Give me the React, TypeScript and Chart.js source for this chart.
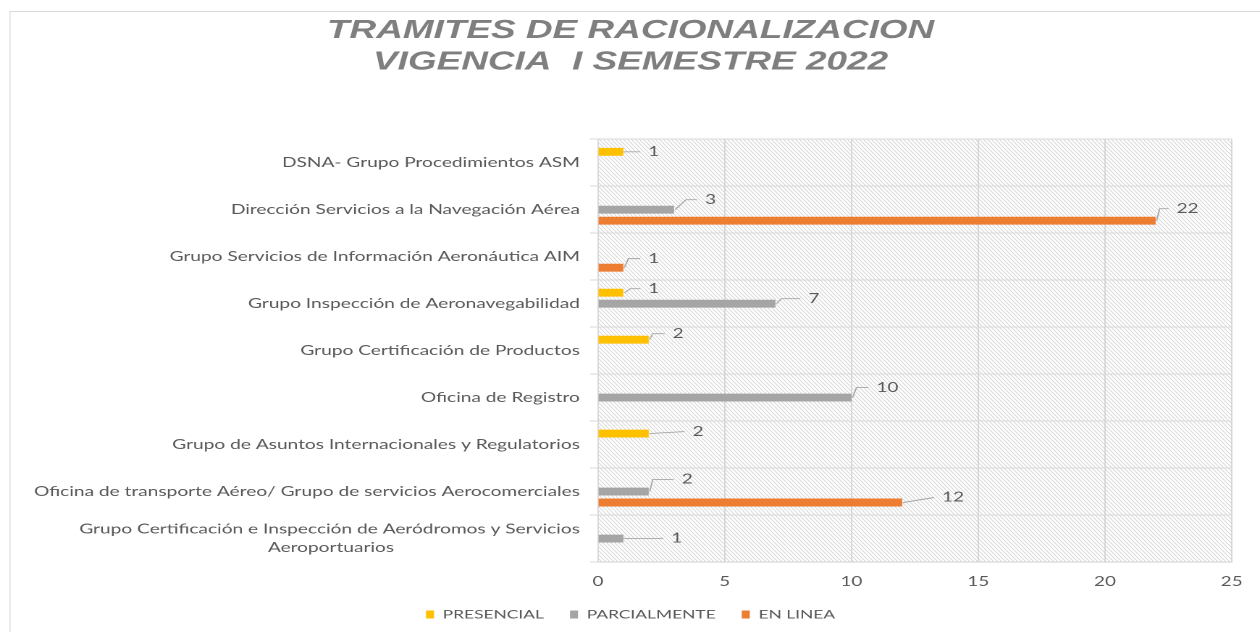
import React, { useEffect, useRef } from 'react';
import { Chart, registerables } from 'chart.js';

Chart.register(...registerables);

// ---------- data ----------
const categories: (string | string[])[] = [
  'DSNA- Grupo Procedimientos ASM',
  'Dirección Servicios a la Navegación Aérea',
  'Grupo Servicios de Información Aeronáutica AIM',
  'Grupo Inspección de Aeronavegabilidad',
  'Grupo Certificación de Productos',
  'Oficina de Registro',
  'Grupo de Asuntos Internacionales y Regulatorios',
  'Oficina de transporte Aéreo/ Grupo de servicios Aerocomerciales',
  ['Grupo Certificación e Inspección de Aeródromos y Servicios', 'Aeroportuarios'],
];

const seriesNames = ['PRESENCIAL', 'PARCIALMENTE', 'EN LINEA'];
const presencial = [1, null, null, 1, 2, null, 2, null, null];
const parcialmente = [null, 3, null, 7, null, 10, null, 2, 1];
const enLinea = [null, 22, 1, null, null, null, null, 12, null];

const xMin = 0;
const xMax = 25;
const xStep = 5;

const titleLines = ['TRAMITES DE RACIONALIZACION', 'VIGENCIA  I SEMESTRE 2022'];

// ---------- styles ----------
const seriesColors = ['#FFC000', '#A5A5A5', '#ED7D31'];

// callout placement per label: [dx, dy, elbowX] in screen px from the bar end
const presencialCallouts = [[25, 0, 0], null, null, [25, -4, 7], [24, -6, 4], null, [44, -2, 36], null, null];
const parcialmenteCallouts = [null, [31, -10, 12], null, [33, -5, 6], null, [25, -10, 5], null, [33, -12, 4], [48, 0, 0]];
const enLineaCallouts = [null, [21, -12, 4], [25, -9, 5], null, null, null, null, [40, -5, 32], null];
const calloutSets = [presencialCallouts, parcialmenteCallouts, enLineaCallouts];

const VIEW_W = 1260;
const VIEW_H = 632;
const RENDER_W = 870;
const SX = VIEW_W / RENDER_W;
const PAD_LEFT = 18;

const TEXT = '#595959';
const FONT = 'Lato';

const hatchPlugin = {
  id: 'hatchBg',
  beforeDraw(chart: any) {
    const { ctx, chartArea: a } = chart;
    ctx.save();
    ctx.fillStyle = '#ffffff';
    ctx.fillRect(0, 0, chart.width, chart.height);
    // outer frame
    ctx.strokeStyle = '#d9d9d9';
    ctx.lineWidth = 1;
    ctx.beginPath();
    ctx.moveTo(10 / SX, 11.5);
    ctx.lineTo(chart.width, 11.5);
    ctx.stroke();
    ctx.lineWidth = 1 / SX;
    ctx.beginPath();
    ctx.moveTo(10 / SX, 11.5);
    ctx.lineTo(10 / SX, chart.height);
    ctx.stroke();
    // hatch
    ctx.beginPath();
    ctx.rect(a.left, a.top, a.right - a.left, a.bottom - a.top);
    ctx.clip();
    ctx.strokeStyle = '#d8d8d8';
    ctx.lineWidth = 0.7;
    const h = a.bottom - a.top;
    const leftD = a.left * SX;
    const rightD = a.right * SX;
    ctx.beginPath();
    for (let xd = leftD - h; xd < rightD + 4; xd += 4) {
      ctx.moveTo(xd / SX, a.top);
      ctx.lineTo((xd + h) / SX, a.bottom);
    }
    ctx.stroke();
    ctx.restore();
  },
};

const calloutPlugin = {
  id: 'callouts',
  afterDatasetsDraw(chart: any) {
    const { ctx } = chart;
    ctx.save();
    ctx.font = `13px ${FONT}`;
    ctx.textAlign = 'left';
    ctx.textBaseline = 'middle';
    chart.data.datasets.forEach((ds: any, di: number) => {
      const meta = chart.getDatasetMeta(di);
      const offs = calloutSets[di];
      meta.data.forEach((el: any, i: number) => {
        const v = ds.data[i];
        if (v === null || v === undefined) return;
        const o = offs[i] || [25, 0, 0];
        const [dx, dy, ex] = o as number[];
        const x0 = el.x;
        const y0 = el.y;
        ctx.strokeStyle = '#a6a6a6';
        ctx.lineWidth = 0.9;
        ctx.beginPath();
        ctx.moveTo(x0 + 1 / SX, y0);
        ctx.lineTo(x0 + ex / SX, y0 + dy);
        ctx.lineTo(x0 + (dx - 8) / SX, y0 + dy);
        ctx.stroke();
        ctx.fillStyle = TEXT;
        ctx.fillText(String(v), x0 + dx / SX, y0 + dy);
      });
    });
    ctx.restore();
  },
};

let measureCtx: CanvasRenderingContext2D | null = null;
function centeredLines(lines: string[], font: string): string[] {
  if (!measureCtx) measureCtx = document.createElement('canvas').getContext('2d');
  const m = measureCtx!;
  m.font = font;
  const widest = Math.max(...lines.map((l) => m.measureText(l).width));
  const sp = m.measureText(' ').width || 3;
  return lines.map((l) => {
    const n = Math.round((widest - m.measureText(l).width) / 2 / sp);
    return l + ' '.repeat(Math.max(0, n));
  });
}

export default function App() {
  const canvasRef = useRef<HTMLCanvasElement | null>(null);

  useEffect(() => {
    const canvas = canvasRef.current;
    if (!canvas) return;
    const yFontSize = 13.2;
    const chart = new Chart(canvas, {
      type: 'bar',
      data: {
        labels: categories as any,
        datasets: [
          { label: seriesNames[0], data: presencial, backgroundColor: seriesColors[0], borderWidth: 0 },
          { label: seriesNames[1], data: parcialmente, backgroundColor: seriesColors[1], borderWidth: 0 },
          { label: seriesNames[2], data: enLinea, backgroundColor: seriesColors[2], borderWidth: 0 },
        ],
      },
      options: {
        indexAxis: 'y',
        responsive: false,
        devicePixelRatio: 2,
        animation: false,
        datasets: { bar: { categoryPercentage: 0.7, barPercentage: 0.72 } },
        layout: { padding: { left: PAD_LEFT, right: RENDER_W - 1235 / SX, top: 0, bottom: 1.5 } },
        plugins: {
          title: {
            display: true,
            text: titleLines,
            color: '#7f7f7f',
            font: { family: 'Liberation Sans', size: 25.5, weight: 'bold', style: 'italic', lineHeight: 1.24 },
            padding: { top: 15, bottom: 61 },
          },
          legend: {
            position: 'bottom',
            labels: {
              color: TEXT,
              font: { family: FONT, size: 12 },
              boxWidth: 8 / SX,
              boxHeight: 8,
              padding: 18,
            },
          },
          tooltip: { enabled: false },
        },
        scales: {
          x: {
            min: xMin,
            max: xMax,
            ticks: { stepSize: xStep, color: TEXT, font: { family: FONT, size: 13 }, padding: 12 },
            grid: { color: '#d0d0d0', lineWidth: 0.8, drawTicks: false },
            border: { display: true, color: '#d0d0d0' },
            afterFit: (s: any) => {
              s.height = 28.5;
            },
          },
          y: {
            ticks: {
              color: TEXT,
              font: { family: FONT, size: yFontSize, lineHeight: 1.4 },
              padding: 7,
              autoSkip: false,
              callback: (_v: any, i: number) => {
                const lab = categories[i];
                if (Array.isArray(lab)) return centeredLines(lab, `${yFontSize}px ${FONT}`);
                return lab;
              },
            },
            grid: { color: '#d9d9d9', lineWidth: 1, tickLength: 5.5, offset: true },
            border: { display: true, color: '#d9d9d9' },
            afterFit: (s: any) => {
              s.width = 598 / SX - PAD_LEFT;
            },
          },
        },
      },
      plugins: [hatchPlugin, calloutPlugin],
    } as any);
    return () => chart.destroy();
  }, []);

  return (
    <div style={{ position: 'absolute', left: 0, top: 0, width: VIEW_W, height: VIEW_H, background: '#fff' }}>
      <canvas
        ref={canvasRef}
        width={RENDER_W}
        height={VIEW_H}
        style={{ width: `${VIEW_W}px`, height: `${VIEW_H}px`, display: 'block' }}
      />
    </div>
  );
}
